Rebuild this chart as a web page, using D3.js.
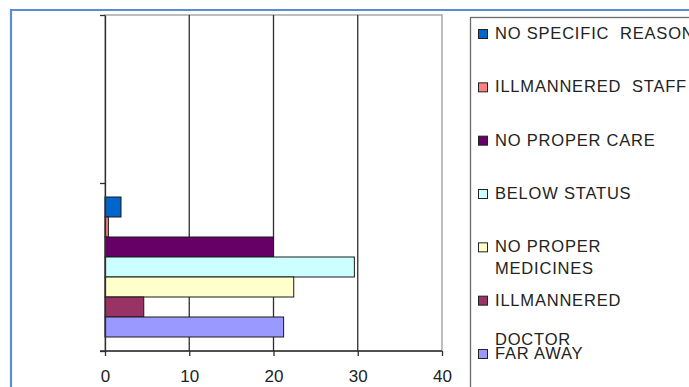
<!DOCTYPE html>
<html>
<head>
<meta charset="utf-8">
<script src="https://cdn.jsdelivr.net/npm/d3@7"></script>
<style>
  body { margin: 0; background: #fff; }
  svg { display: block; font-family: "Liberation Sans", Arial, sans-serif; }
</style>
</head>
<body>
<div id="chart_container"></div>
<script>
// two categories on the value axis, only the lower one has data
var categories = ["Category 2", "Category 1"];

var series = ["NO SPECIFIC REASON", "ILLMANNERED  STAFF", "NO PROPER CARE", "BELOW STATUS",
              "NO PROPER MEDICINES", "ILLMANNERED DOCTOR", "FAR AWAY"];

// legend text as it wraps in the picture
var legendLines = [["NO SPECIFIC  REASON"], ["ILLMANNERED  STAFF"], ["NO PROPER CARE"], ["BELOW STATUS"],
                   ["NO PROPER", "MEDICINES"], ["ILLMANNERED", "DOCTOR"], ["FAR AWAY"]];

// value for each series in "Category 1"
var values = [1.9, 0.4, 20, 29.6, 22.4, 4.6, 21.2];

var colors = ["#0066cc", "#ff8080", "#660066", "#ccffff", "#ffffcc", "#993366", "#9999ff"];

var xTicks = [0, 10, 20, 30, 40];

draw_bar_chart();

function draw_bar_chart() {
    var width = 689, height = 387;

    var svg = d3.select("#chart_container")
        .append("svg")
        .attr("width", width)
        .attr("height", height);

    // outer blue frame
    svg.append("path")
        .attr("d", "M11," + height + "V10H" + width)
        .attr("fill", "none")
        .attr("stroke", "#5b8bd0")
        .attr("stroke-width", 2.2);

    var plot = {left: 105, right: 442, top: 15, bottom: 351};

    var x = d3.scaleLinear()
        .domain([0, 40])
        .range([plot.left, plot.right]);

    var y = d3.scaleBand()
        .domain(categories)
        .range([plot.top, plot.bottom]);

    var ySeries = d3.scaleBand()
        .domain(series)
        .range([14, y.bandwidth() - 14]);

    // plot area border (gray)
    svg.append("rect")
        .attr("x", plot.left)
        .attr("y", plot.top)
        .attr("width", plot.right - plot.left)
        .attr("height", plot.bottom - plot.top)
        .attr("fill", "none")
        .attr("stroke", "#9a9a9a")
        .attr("stroke-width", 1.3);

    // vertical gridlines
    svg.append("g")
        .selectAll("line")
        .data(xTicks.filter(function(d) { return d > 0 && d < 40; }))
        .enter()
        .append("line")
        .attr("x1", function(d) { return x(d); })
        .attr("x2", function(d) { return x(d); })
        .attr("y1", plot.top)
        .attr("y2", plot.bottom)
        .attr("stroke", "#2e2e2e")
        .attr("stroke-width", 1.3);

    // bars
    var catName = categories[1];
    svg.append("g")
        .selectAll("rect")
        .data(values)
        .enter()
        .append("rect")
        .attr("x", x(0))
        .attr("y", function(d, i) { return y(catName) + ySeries(series[i]); })
        .attr("width", function(d) { return x(d) - x(0); })
        .attr("height", ySeries.bandwidth())
        .attr("fill", function(d, i) { return colors[i]; })
        .attr("stroke", "#1a1a1a")
        .attr("stroke-width", 1);

    // X axis
    var xAxis = d3.axisBottom(x)
        .tickValues(xTicks)
        .tickSize(5)
        .tickPadding(14)
        .tickSizeOuter(0);

    var gx = svg.append("g")
        .attr("transform", "translate(0," + plot.bottom + ")")
        .call(xAxis);
    gx.select(".domain").remove();
    gx.append("line")
        .attr("x1", plot.left - 5)
        .attr("x2", plot.right)
        .attr("stroke", "#2e2e2e")
        .attr("stroke-width", 1.3);
    gx.selectAll(".tick line").attr("stroke", "#2e2e2e").attr("stroke-width", 1.3);
    gx.selectAll("text")
        .attr("fill", "#222")
        .style("font-size", "17px")
        .style("font-family", "'Liberation Sans', Arial, sans-serif");

    // Y axis (category boundaries, no labels)
    var yAxis = d3.axisLeft(d3.scaleLinear().domain([0, 2]).range([plot.bottom, plot.top]))
        .tickValues([0, 1, 2])
        .tickSize(5)
        .tickSizeOuter(0)
        .tickFormat("");

    var gy = svg.append("g")
        .attr("transform", "translate(" + plot.left + ",0)")
        .call(yAxis);
    gy.select(".domain").attr("stroke", "#2e2e2e").attr("stroke-width", 1.3);
    gy.selectAll(".tick line").attr("stroke", "#2e2e2e").attr("stroke-width", 1.3);

    // legend box
    var legend = svg.append("g")
        .attr("id", "legend")
        .attr("transform", "translate(470,17)");

    legend.append("rect")
        .attr("x", 0.5)
        .attr("y", 0.5)
        .attr("width", 400)
        .attr("height", 400)
        .attr("fill", "#fff")
        .attr("stroke", "#6a6a6a")
        .attr("stroke-width", 1.3);

    var itemY = d3.scaleLinear().domain([0, series.length - 1]).range([16, 336]);
    var secondLineGap = [0, 0, 0, 0, 21.5, 39, 0];

    var items = legend.selectAll(".item")
        .data(series)
        .enter()
        .append("g")
        .attr("class", "item")
        .attr("transform", function(d, i) { return "translate(0," + itemY(i) + ")"; });

    items.append("rect")
        .attr("x", 8.5)
        .attr("y", -3.5)
        .attr("width", 9)
        .attr("height", 9)
        .attr("fill", function(d, i) { return colors[i]; })
        .attr("stroke", "#222")
        .attr("stroke-width", 1);

    items.each(function(d, i) {
        var g = d3.select(this);
        legendLines[i].forEach(function(line, k) {
            g.append("text")
                .attr("x", 25)
                .attr("y", 6 + (k > 0 ? secondLineGap[i] : 0))
                .attr("fill", "#222")
                .style("font-size", "16.5px")
                .style("letter-spacing", "0.8px")
                .style("white-space", "pre")
                .text(line);
        });
    });
}
</script>
</body>
</html>
